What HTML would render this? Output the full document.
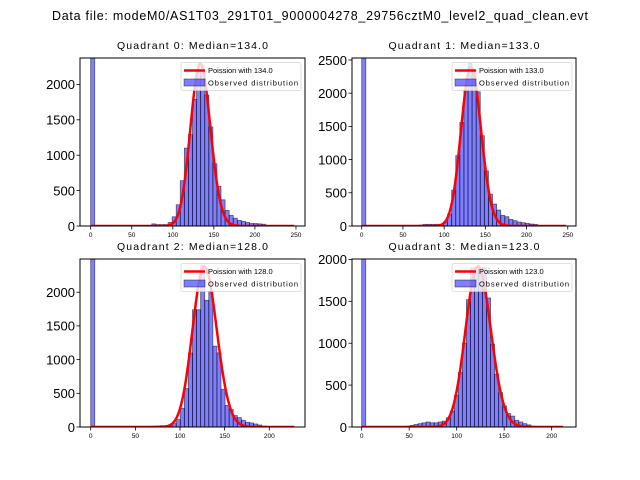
<!DOCTYPE html>
<html><head><meta charset="utf-8"><style>
html,body{margin:0;padding:0;background:#fff;}
svg{display:block;font-family:"Liberation Sans","DejaVu Sans",sans-serif;}
</style></head><body>
<svg id="fig" width="640" height="480" viewBox="0 0 640 480">
<text x="320" y="20" text-anchor="middle" font-size="12.5" textLength="536">Data file: modeM0/AS1T03_291T01_9000004278_29756cztM0_level2_quad_clean.evt</text>
</svg>
<script>
// ---- data ----
const quadNames = ["Quadrant 0: Median=134.0","Quadrant 1: Median=133.0","Quadrant 2: Median=128.0","Quadrant 3: Median=123.0"];
const medians = [134, 133, 128, 123];
const binWidths = [4.96, 4.96, 4.56, 4.24];
const countsQ0 = [3000,0,0,0,0,0,0,0,0,0,0,0,0,0,0,30,20,20,20,50,130,300,640,1100,1290,1790,2200,2200,1850,1400,880,560,370,220,150,110,80,65,50,35,35,30,25,0,0,0,0,0,0,0];
const countsQ1 = [3000,0,0,0,0,0,0,0,0,0,0,0,0,10,15,25,25,25,25,25,60,180,540,1060,1560,2050,2450,2350,2020,1360,830,480,330,240,160,140,100,80,60,50,40,30,25,0,0,0,0,0,0,0];
const countsQ2 = [3000,0,0,0,0,0,0,0,0,0,0,0,0,0,10,12,15,20,15,30,50,110,280,570,1100,1740,1740,2400,1880,2010,1200,1100,560,320,260,170,140,100,70,60,45,30,15,0,0,0,0,0,0,0];
const countsQ3 = [3000,0,0,0,0,0,0,0,0,0,0,10,20,30,40,50,60,50,50,60,70,110,190,380,650,1000,1520,1900,1900,1900,1900,1540,990,630,410,250,160,130,80,60,40,25,10,0,0,0,0,0,0,0];
const poissonPeaks = [2290, 2390, 2380, 1916];
const curveWidths = [1.05, 1.05, 1.2, 1.2];
const curveEnds = [248, 248, 228, 212];
const xDomains = [[-13,261],[-11.8,260],[-12,240],[-10.2,225.6]];
const yMaxes = [2373, 2530, 2493, 2005];
const xTicksQ0 = [0,50,100,150,200,250];
const xTicksQ1 = [0,50,100,150,200,250];
const xTicksQ2 = [0,50,100,150,200];
const xTicksQ3 = [0,50,100,150,200];
const yTicksQ0 = [0,500,1000,1500,2000];
const yTicksQ1 = [0,500,1000,1500,2000,2500];
const yTicksQ2 = [0,500,1000,1500,2000];
const yTicksQ3 = [0,500,1000,1500,2000];
const counts = [countsQ0,countsQ1,countsQ2,countsQ3];
const xTicks = [xTicksQ0,xTicksQ1,xTicksQ2,xTicksQ3];
const yTicks = [yTicksQ0,yTicksQ1,yTicksQ2,yTicksQ3];
// ---- layout ----
const boxes = [[80,58,305,226],[352,58,576,226],[80,259,305,427],[352,259,576,427]];
const NS = "http://www.w3.org/2000/svg";
const svg = document.getElementById("fig");
function mk(tag, attrs, parent){const e=document.createElementNS(NS,tag);for(const k in attrs)e.setAttribute(k,attrs[k]);(parent||svg).appendChild(e);return e;}
function logPmf(k, lam){
  if(k<=0) return -lam;
  const lg = k*Math.log(k)-k+0.5*Math.log(2*Math.PI*k)+1/(12*k);
  return k*Math.log(lam)-lam-lg;
}
for(let q=0;q<4;q++){
  const [L,T,R,B]=boxes[q];
  const [x0,x1]=xDomains[q];
  const ym=yMaxes[q];
  const sx=v=>L+(v-x0)/(x1-x0)*(R-L);
  const sy=v=>B-v/ym*(B-T);
  const g=mk("g",{});
  
  
  const clipId="clip"+q;
  const cp=mk("clipPath",{id:clipId},g);
  mk("rect",{x:L,y:T,width:R-L,height:B-T},cp);
  const plot=mk("g",{"clip-path":"url(#"+clipId+")"},g);
  const bw=binWidths[q];
  counts[q].forEach((c,i)=>{
    if(c<=0) return;
    const r=mk("rect",{x:sx(i*bw),y:sy(c),width:sx((i+1)*bw)-sx(i*bw),height:sy(0)-sy(c),fill:"rgba(0,0,255,0.5)",stroke:"rgba(0,0,0,0.55)","stroke-width":"0.8"},plot);
    
    
  });
  const lam=medians[q], pk=poissonPeaks[q], f=curveWidths[q], ref=logPmf(lam,lam);
  let d="";
  for(let k=0;k<=curveEnds[q];k+=0.5){
    const kk=lam+(k-lam)/f;
    const v=pk*Math.exp(logPmf(kk,lam)-ref);
    d+=(k?"L":"M")+sx(k).toFixed(2)+","+sy(v).toFixed(2);
  }
  const pl=mk("path",{d:d,fill:"none",stroke:"#ff0000","stroke-width":"2.5","stroke-linejoin":"round"},plot);
  
  
  mk("rect",{x:L,y:T,width:R-L,height:B-T,fill:"none",stroke:"#000","stroke-width":"1"},g);
  xTicks[q].forEach(t=>{
    const x=sx(t);
    mk("line",{x1:x,y1:B,x2:x,y2:B+3.5,stroke:"#000","stroke-width":"0.8"},g);
    const tx=mk("text",{x:x,y:B+11,"text-anchor":"middle","font-size":"6.5"},g);
    tx.textContent=t;
    
    
  });
  yTicks[q].forEach(t=>{
    const y=sy(t);
    mk("line",{x1:L-3.5,y1:y,x2:L,y2:y,stroke:"#000","stroke-width":"0.8"},g);
    const tx=mk("text",{x:L-5,y:y+4.8,"text-anchor":"end","font-size":"13"},g);
    tx.textContent=t;
    
    
  });
  const tt=mk("text",{x:(L+R)/2,y:T-9,"text-anchor":"middle","font-size":"10.5",textLength:"151"},g);
  tt.textContent=quadNames[q];
  
  
  const lx=R-124, ly=T+4.5;
  const lg=mk("g",{},g);
  
  
  mk("rect",{x:lx,y:ly,width:120,height:28,rx:2,fill:"rgba(255,255,255,0.8)",stroke:"rgba(204,204,204,0.8)","stroke-width":"0.8"},lg);
  mk("line",{x1:lx+3,y1:ly+8,x2:lx+24,y2:ly+8,stroke:"#ff0000","stroke-width":"2.5"},lg);
  mk("rect",{x:lx+3,y:ly+16.5,width:21,height:7,fill:"rgba(0,0,255,0.5)",stroke:"rgba(0,0,0,0.5)","stroke-width":"0.8"},lg);
  const t1=mk("text",{x:lx+27,y:ly+10.5,"font-size":"7.5"},lg);
  t1.textContent="Poission with "+lam.toFixed(1);
  
  
  const t2=mk("text",{x:lx+27,y:ly+23,"font-size":"7.5",textLength:"90"},lg);
  t2.textContent="Observed distribution";
  
  
}
</script>
</body></html>
